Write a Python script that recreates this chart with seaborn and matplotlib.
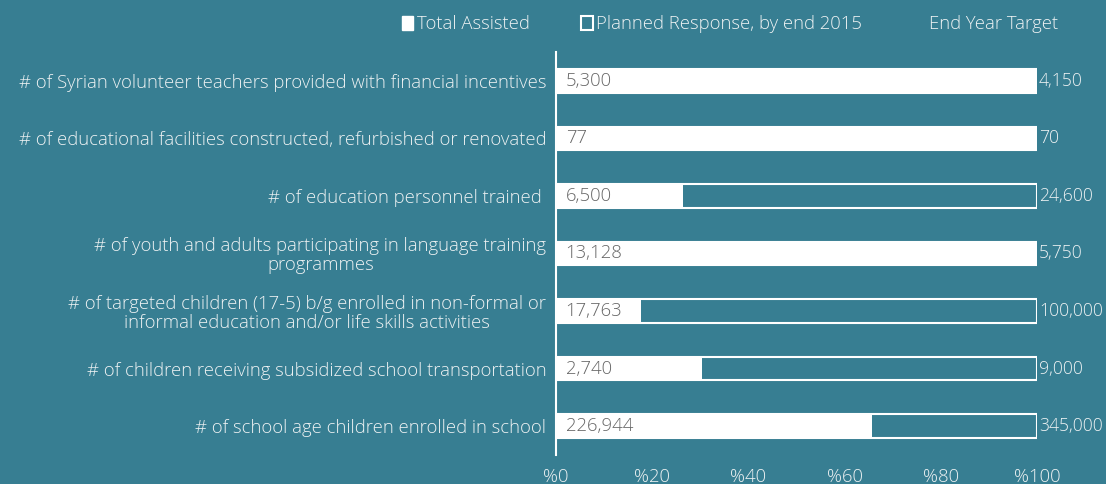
import matplotlib
matplotlib.use("Agg")
import matplotlib.pyplot as plt
from matplotlib.patches import Patch
import seaborn as sns
import pandas as pd

categories = [
    "# of Syrian volunteer teachers provided with financial incentives",
    "# of educational facilities constructed, refurbished or renovated",
    "# of education personnel trained ",
    "# of youth and adults participating in language training\nprogrammes",
    "# of targeted children (17-5) b/g enrolled in non-formal or\ninformal education and/or life skills activities",
    "# of children receiving subsidized school transportation",
    "# of school age children enrolled in school",
]
total_assisted = [5300, 77, 6500, 13128, 17763, 2740, 226944]
end_year_target = [4150, 70, 24600, 5750, 100000, 9000, 345000]
planned_response = [100, 100, 100, 100, 100, 100, 100]
x_ticks = [0, 20, 40, 60, 80, 100]

bg = "#377E92"
txt = "#EEF2F3"
grey = "#666666"
fs = 13.3

df = pd.DataFrame({"cat": categories, "assisted": total_assisted,
                   "target": end_year_target, "planned": planned_response})
df["pct"] = [min(a / t, 1.0) * 100 for a, t in zip(df["assisted"], df["target"])]

sns.set_theme(style="white")
plt.rcParams["font.family"] = ["Open Sans", "DejaVu Sans"]
plt.rcParams["font.weight"] = "light"

fig = plt.figure(figsize=(11.06, 4.84), dpi=100, facecolor=bg)
ax = fig.add_axes([0.5027, 0.0599, 0.4349, 0.8327])
ax.set_facecolor(bg)

# planned response outline bars, then assisted share on top
sns.barplot(ax=ax, data=df, y="cat", x="planned", orient="h", width=0.41,
            color=bg, edgecolor="white", linewidth=1.5, saturation=1)
sns.barplot(ax=ax, data=df, y="cat", x="pct", orient="h", width=0.41,
            color="white", edgecolor="white", linewidth=0, saturation=1)

for i, (a, t) in enumerate(zip(total_assisted, end_year_target)):
    ax.annotate(f"{a:,}", (0, i), xytext=(7, 0), textcoords="offset points",
                va="center", ha="left", color=grey, fontsize=fs)
    ax.annotate(f"{t:,}", (100, i), xytext=(1.5, 0), textcoords="offset points",
                va="center", ha="left", color=txt, fontsize=12.7)

ax.set_xlim(0, 100)
ax.set_ylim(6.5, -0.5)
ax.set_xticks(x_ticks)
ax.set_xticklabels([f"%{v}" for v in x_ticks])
ax.set_xlabel(""); ax.set_ylabel("")
ax.tick_params(axis="x", length=0, pad=9, labelsize=fs, labelcolor=txt)
ax.tick_params(axis="y", length=0, pad=7, labelsize=fs, labelcolor=txt)
for lab in ax.get_yticklabels():
    lab.set_multialignment("center")
    lab.set_linespacing(1.05)

for s in ["top", "right", "bottom"]:
    ax.spines[s].set_visible(False)
ax.spines["left"].set_color("white")
ax.spines["left"].set_linewidth(1.5)

handles = [Patch(facecolor="white", edgecolor="white"),
           Patch(facecolor=bg, edgecolor="white", linewidth=1.5),
           Patch(facecolor="none", edgecolor="none")]
leg = fig.legend(handles, ["Total Assisted", "Planned Response, by end 2015", "End Year Target"],
                 loc="center", bbox_to_anchor=(0.66, 0.95), ncol=3, frameon=False,
                 handlelength=0.6, handleheight=0.8, handletextpad=0.2, columnspacing=2.8,
                 fontsize=fs)
for t in leg.get_texts():
    t.set_color(txt)

fig.savefig("out.png", dpi=100, facecolor=bg)
